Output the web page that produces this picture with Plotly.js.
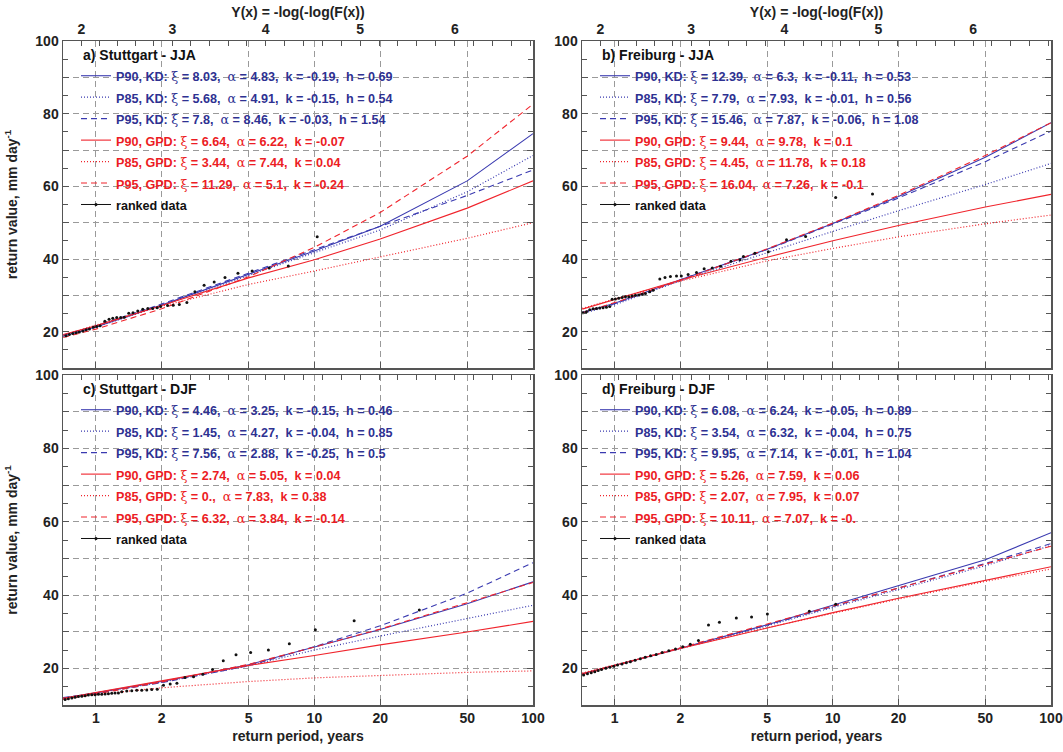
<!DOCTYPE html>
<html>
<head>
<meta charset="utf-8">
<script src="https://cdn.plot.ly/plotly-3.0.1.min.js"></script>
<style>html,body{margin:0;padding:0;background:#fff;}#chart{width:1063px;height:752px;}</style>
</head>
<body>
<div id="chart"></div>
<script>
// ---------- data ----------
const T_CURVE = [0.71, 1, 2, 5, 10, 20, 50, 100];

// a) Stuttgart - JJA
const a_KD90  = [18.8, 21.3, 27.3, 35.8, 42.2, 49.0, 61.5, 74.5];
const a_KD85  = [18.7, 21.2, 27.2, 35.5, 41.6, 48.0, 58.5, 68.5];
const a_KD95  = [19.1, 21.6, 27.6, 36.2, 42.5, 49.0, 57.5, 64.5];
const a_GPD90 = [19.2, 21.6, 27.2, 34.8, 39.8, 45.5, 54.0, 61.5];
const a_GPD85 = [19.0, 21.8, 27.0, 33.0, 36.7, 40.6, 45.7, 50.0];
const a_GPD95 = [18.4, 20.7, 26.3, 35.1, 43.2, 52.8, 68.3, 82.6];
const a_rankT = [0.731,0.757,0.785,0.813,0.841,0.872,0.903,0.935,0.975,1.01,1.046,1.10,1.15,1.196,1.247,1.30,1.35,1.415,1.48,1.556,1.64,1.73,1.82,1.91,1.98,2.13,2.26,2.41,2.61,2.84,3.13,3.48,3.9,4.47,5.19,6.22,7.6,10.3];
const a_rankV = [18.9,19.2,19.5,19.7,19.9,20.2,20.5,20.7,21.2,21.4,21.6,22.9,23.4,23.7,23.9,23.9,24.0,25.1,25.2,25.7,26.2,26.4,26.4,26.6,26.9,27.2,27.3,27.5,28.0,31.0,32.8,33.7,34.9,36.1,36.7,37.5,38.1,46.1];

// b) Freiburg - JJA
const b_KD90  = [25.3, 27.8, 34.3, 42.7, 49.8, 57.2, 68.0, 77.5];
const b_KD85  = [25.0, 27.4, 34.0, 41.8, 47.6, 53.3, 60.5, 66.3];
const b_KD95  = [25.3, 27.7, 34.3, 42.6, 49.6, 56.8, 66.8, 75.2];
const b_GPD90 = [26.2, 28.9, 34.2, 40.5, 45.0, 49.2, 54.3, 57.8];
const b_GPD85 = [26.4, 29.0, 33.9, 39.5, 42.9, 46.1, 49.7, 52.1];
const b_GPD95 = [25.2, 28.0, 34.1, 42.8, 49.9, 57.5, 68.5, 77.5];
const b_rankT = [0.716,0.742,0.768,0.796,0.824,0.853,0.884,0.916,0.949,0.973,1.007,1.043,1.081,1.12,1.16,1.2,1.245,1.29,1.336,1.383,1.447,1.5,1.61,1.70,1.80,1.92,2.02,2.17,2.37,2.57,2.80,3.06,3.41,3.75,3.89,4.39,5.06,6.13,7.5,10.3,15.2];
const b_rankV = [25.2,25.5,26.0,26.3,26.4,26.5,26.6,26.7,26.9,28.9,29.0,29.2,29.4,29.6,29.6,29.8,30.0,30.1,30.3,30.5,31.0,31.4,34.5,34.9,35.2,35.3,35.3,35.7,36.3,37.3,37.5,38.0,39.4,39.8,40.7,41.6,42.0,45.3,46.2,56.9,57.9];

// c) Stuttgart - DJF
const c_KD90  = [11.9, 13.3, 16.4, 21.0, 25.8, 30.6, 37.6, 43.6];
const c_KD85  = [11.8, 13.2, 16.2, 20.7, 25.0, 28.8, 33.6, 37.2];
const c_KD95  = [12.0, 13.2, 16.1, 20.7, 25.9, 31.6, 40.5, 48.8];
const c_GPD90 = [11.8, 13.4, 16.7, 20.8, 23.5, 26.4, 29.9, 32.8];
const c_GPD85 = [11.9, 12.9, 14.7, 16.4, 17.4, 18.1, 18.9, 19.3];
const c_GPD95 = [11.5, 13.0, 16.3, 21.1, 25.8, 30.7, 37.9, 43.4];
const c_rankT = [0.724,0.749,0.777,0.804,0.833,0.863,0.894,0.925,0.959,0.993,1.028,1.065,1.103,1.142,1.183,1.225,1.269,1.315,1.386,1.461,1.540,1.623,1.711,1.803,1.91,2.04,2.19,2.35,2.56,2.80,3.09,3.42,3.83,4.38,5.11,6.16,7.68,10.1,15.2,30.2];
const c_rankV = [11.5,11.7,11.9,12.1,12.3,12.4,12.5,12.7,12.8,12.8,12.9,12.9,13.0,13.1,13.2,13.3,13.3,13.6,13.8,13.9,14.0,14.0,14.1,14.2,14.3,15.4,15.7,15.9,17.5,17.7,18.4,19.7,22.1,23.7,24.3,25.0,26.7,30.5,33.0,35.9];

// d) Freiburg - DJF
const d_KD90  = [18.5, 20.8, 25.5, 31.9, 37.2, 42.4, 49.6, 57.0];
const d_KD85  = [18.5, 20.7, 25.4, 31.6, 36.6, 41.5, 48.0, 53.5];
const d_KD95  = [18.4, 20.7, 25.5, 31.8, 36.9, 41.9, 48.6, 54.0];
const d_GPD90 = [18.6, 20.9, 25.4, 31.0, 35.2, 39.1, 44.0, 47.7];
const d_GPD85 = [18.7, 21.0, 25.5, 31.1, 35.1, 38.9, 43.7, 47.1];
const d_GPD95 = [18.3, 20.7, 25.6, 32.1, 37.0, 41.9, 48.4, 53.3];
const d_rankT = [0.72,0.75,0.78,0.81,0.84,0.87,0.91,0.95,0.99,1.03,1.08,1.13,1.18,1.24,1.31,1.38,1.46,1.55,1.65,1.77,1.90,2.05,2.22,2.42,2.69,3.02,3.61,4.24,5.01,7.8,10.3];
const d_rankV = [18.2,18.5,18.8,19.1,19.4,19.7,20.0,20.3,20.6,20.9,21.2,21.5,21.8,22.2,22.6,23.0,23.4,23.8,24.3,24.8,25.3,25.9,26.6,27.6,31.8,32.6,33.7,34.0,34.8,35.6,37.5];

// legend labels
const a_labels = ['P90, KD|8.03|4.83|-0.19|0.69','P85, KD|5.68|4.91|-0.15|0.54','P95, KD|7.8|8.46|-0.03|1.54','P90, GPD|6.64|6.22|-0.07','P85, GPD|3.44|7.44|0.04','P95, GPD|11.29|5.1|-0.24'];
const b_labels = ['P90, KD|12.39|6.3|-0.11|0.53','P85, KD|7.79|7.93|-0.01|0.56','P95, KD|15.46|7.87|-0.06|1.08','P90, GPD|9.44|9.78|0.1','P85, GPD|4.45|11.78|0.18','P95, GPD|16.04|7.26|-0.1'];
const c_labels = ['P90, KD|4.46|3.25|-0.15|0.46','P85, KD|1.45|4.27|-0.04|0.85','P95, KD|7.56|2.88|-0.25|0.5','P90, GPD|2.74|5.05|0.04','P85, GPD|0.|7.83|0.38','P95, GPD|6.32|3.84|-0.14'];
const d_labels = ['P90, KD|6.08|6.24|-0.05|0.89','P85, KD|3.54|6.32|-0.04|0.75','P95, KD|9.95|7.14|-0.01|1.04','P90, GPD|5.26|7.59|0.06','P85, GPD|2.07|7.95|0.07','P95, GPD|10.11|7.07|-0.'];
const panelTitles = ['a) Stuttgart - JJA','b) Freiburg - JJA','c) Stuttgart - DJF','d) Freiburg - DJF'];
const X_TICKS = [1, 2, 5, 10, 20, 50, 100];
const Y_TICKS = [10, 20, 30, 40, 50, 60, 70, 80, 90, 100];
const GUMBEL_Y = [1.8,2,2.2,2.4,2.6,2.8,3,3.2,3.4,3.6,3.8,4,4.2,4.4,4.6,4.8,5,5.2,5.4,5.6,5.8,6,6.2,6.4,6.6,6.8];

// ---------- styling ----------
const FONT = 'Liberation Sans Narrow, Liberation Sans, Arial, sans-serif';
const BLUE_T = '#2e3192', BLUE_L = '#3a3ab0', RED_T = '#ec1c24', RED_L = '#f0242c';
const LAMBDA = 9.2; // exceedances per year used for the Gumbel-variate axis
const LEG_TXT = 12.6; // visible legend text size (px)

function label(s, isKD) {
  const p = s.split('|');
  const col = isKD ? BLUE_T : RED_T;
  const g = (c) => '<span style="font-family:DejaVu Serif;font-weight:normal">' + c + '</span>';
  let t = p[0] + ': ' + g('ξ') + ' = ' + p[1] + ',\u00a0 ' + g('α') + ' = ' + p[2] + ',\u00a0 k = ' + p[3];
  if (isKD) t += ',\u00a0 h = ' + p[4];
  return '<span style="color:' + col + ';font-size:' + LEG_TXT + 'px">' + t + '</span>';
}
function gaps(arr) { const o = []; arr.forEach((v, i) => { o.push(v); if (i < arr.length - 1) o.push(null); }); return o; }

const panels = [
  {c:[a_KD90,a_KD85,a_KD95,a_GPD90,a_GPD85,a_GPD95], rt:a_rankT, rv:a_rankV, lab:a_labels},
  {c:[b_KD90,b_KD85,b_KD95,b_GPD90,b_GPD85,b_GPD95], rt:b_rankT, rv:b_rankV, lab:b_labels},
  {c:[c_KD90,c_KD85,c_KD95,c_GPD90,c_GPD85,c_GPD95], rt:c_rankT, rv:c_rankV, lab:c_labels},
  {c:[d_KD90,d_KD85,d_KD95,d_GPD90,d_GPD85,d_GPD95], rt:d_rankT, rv:d_rankV, lab:d_labels}
];
const styles = [
  {color:BLUE_L, dash:'solid', width:1.1},
  {color:BLUE_L, dash:'1px,2px', width:1.2},
  {color:BLUE_L, dash:'6px,4px', width:1.1},
  {color:RED_L, dash:'solid', width:1.1},
  {color:RED_L, dash:'1px,2px', width:1.2},
  {color:RED_L, dash:'6px,4px', width:1.1}
];

const traces = [];
panels.forEach((p, i) => {
  const n = i + 1;
  const xa = n === 1 ? 'x' : 'x' + n, ya = n === 1 ? 'y' : 'y' + n;
  const lg = n === 1 ? 'legend' : 'legend' + n;
  p.c.forEach((vals, j) => {
    traces.push({x: T_CURVE, y: vals, xaxis: xa, yaxis: ya, type: 'scatter', mode: 'lines',
      line: {color: styles[j].color, dash: styles[j].dash, width: styles[j].width},
      name: label(p.lab[j], j < 3), legend: lg, hoverinfo: 'skip'});
  });
  // ranked data on the top (Gumbel) axis, which shares the same log range
  traces.push({x: gaps(p.rt), y: gaps(p.rv), xaxis: 'x' + (n + 4), yaxis: ya, type: 'scatter', mode: 'lines+markers',
    connectgaps: false, line: {color: '#111', width: 1},
    marker: {color: '#111', size: 3, symbol: 'circle'},
    name: '<span style="color:#111;font-size:' + LEG_TXT + 'px">ranked data</span>', legend: lg, hoverinfo: 'skip'});
});

// ---------- layout ----------
const W = 1063, H = 752;
const XD = [[63/W, 533/W], [582/W, 1051/W]];
const YD = [[(H-368)/H, (H-41)/H], [(H-705)/H, (H-375)/H]];
const tickFont = {family: FONT, size: 14, weight: 700, color: '#222'};
const titleFont = {family: FONT, size: 14, weight: 700, color: '#222'};
const AXC = '#555';
const GRIDC = '#9a9a9a';

const gumbelT = GUMBEL_Y.map(y => 1 / (LAMBDA * (1 - Math.exp(-Math.exp(-y)))));
const gumbelText = GUMBEL_Y.map(y => (Math.abs(y - Math.round(y)) < 1e-9) ? String(Math.round(y)) : ' ');

const layout = {
  width: W, height: H, margin: {l: 0, r: 0, t: 0, b: 0},
  paper_bgcolor: '#fff', plot_bgcolor: '#fff', showlegend: true, hovermode: false,
  annotations: []
};

for (let n = 1; n <= 4; n++) {
  const col = (n === 1 || n === 3) ? 0 : 1;
  const row = (n <= 2) ? 0 : 1;
  const xk = n === 1 ? 'xaxis' : 'xaxis' + n;
  const yk = n === 1 ? 'yaxis' : 'yaxis' + n;
  const ya = n === 1 ? 'y' : 'y' + n;
  const xa = n === 1 ? 'x' : 'x' + n;
  layout[xk] = {
    domain: XD[col], anchor: ya, type: 'log', range: [-0.15, 2],
    tickmode: 'array', tickvals: X_TICKS, ticktext: X_TICKS.map(String),
    showticklabels: row === 1, tickfont: tickFont,
    ticks: 'inside', ticklen: 6, tickcolor: AXC, tickwidth: 1,
    showgrid: true, gridcolor: GRIDC, griddash: '6px,4px', gridwidth: 1,
    showline: true, linecolor: AXC, linewidth: 1.5, mirror: false, zeroline: false
  };
  if (row === 1) layout[xk].title = {text: 'return period, years', font: titleFont, standoff: 6};
  layout[yk] = {
    domain: YD[row], anchor: xa, range: [10, 100],
    tickmode: 'array', tickvals: Y_TICKS, ticktext: Y_TICKS.map(v => v % 20 === 0 ? String(v) : ' '),
    tickfont: tickFont, ticks: 'inside', ticklen: 6, tickcolor: AXC,
    minor: {dtick: 5, tick0: 0, ticks: 'inside', ticklen: 5, tickcolor: AXC, showgrid: false},
    showgrid: true, gridcolor: GRIDC, griddash: '6px,4px', gridwidth: 1,
    showline: true, linecolor: AXC, linewidth: 1.5, mirror: 'ticks', zeroline: false
  };
  if (col === 0) layout[yk].title = {text: 'return value, mm day<sup>-1</sup>', font: titleFont, standoff: 14};
  const tk = 'xaxis' + (n + 4);
  layout[tk] = {
    overlaying: xa, anchor: ya, side: 'top', type: 'log', range: [-0.15, 2],
    tickmode: 'array', tickvals: gumbelT, ticktext: gumbelText,
    showticklabels: row === 0, tickfont: tickFont,
    ticks: 'inside', ticklen: 5, tickcolor: AXC,
    showgrid: false, showline: true, linecolor: AXC, linewidth: 1.5, zeroline: false
  };
  if (row === 0) layout[tk].title = {text: 'Y(x) = -log(-log(F(x))', font: titleFont, standoff: 0};
  const lk = n === 1 ? 'legend' : 'legend' + n;
  const px0 = col === 0 ? 63 : 582;
  const pyTop = row === 0 ? 41 : 375;
  layout[lk] = {
    x: (px0 + 13) / W, y: (H - pyTop - 19) / H, xanchor: 'left', yanchor: 'top',
    bgcolor: 'rgba(0,0,0,0)', borderwidth: 0, tracegroupgap: 0, itemclick: false,
    font: {family: FONT, size: 14.2, weight: 700, color: '#222'}
  };
  layout.annotations.push({
    text: panelTitles[n - 1], xref: 'paper', yref: 'paper',
    x: (px0 + 18) / W, y: (H - pyTop - 14) / H, xanchor: 'left', yanchor: 'middle',
    showarrow: false, font: {family: FONT, size: 14, weight: 700, color: '#111'}
  });
}

Plotly.newPlot('chart', traces, layout, {staticPlot: true, displayModeBar: false});
</script>
</body>
</html>
